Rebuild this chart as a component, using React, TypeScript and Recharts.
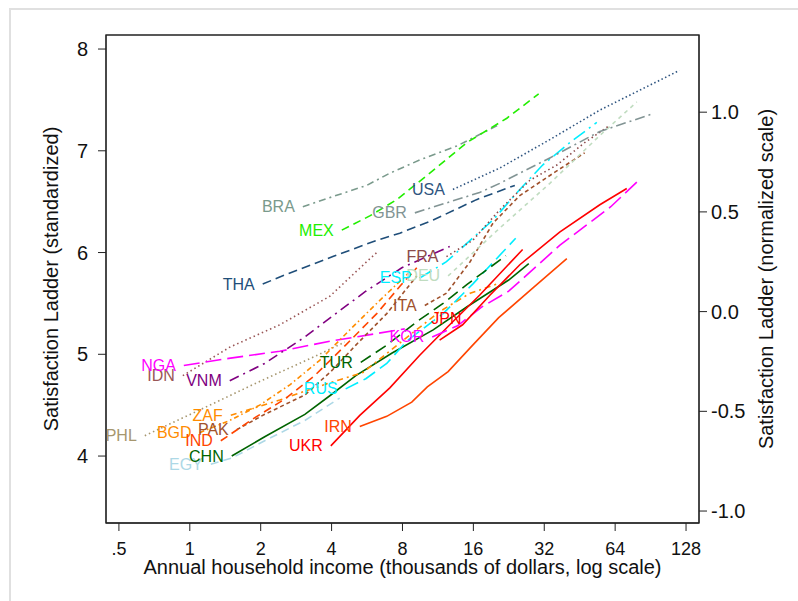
import React from 'react';
import { LineChart, Line, XAxis, YAxis, ReferenceArea } from 'recharts';

// ---- axis ticks ----
const incomeTicks = [0.5, 1, 2, 4, 8, 16, 32, 64, 128];
const ladderTicks = [4, 5, 6, 7, 8];
const normTicks = [-1, -0.5, 0, 0.5, 1];

// ---- series: [income (thousands $), satisfaction ladder] ----
const BRA = [[3.02, 6.45], [4.05, 6.55], [5.64, 6.66], [7.07, 6.78], [9.47, 6.91], [13.7, 7.05], [20.7, 7.26]];
const MEX = [[4.42, 6.22], [5.81, 6.36], [7.57, 6.52], [10.45, 6.78], [15.0, 7.08], [22.2, 7.32], [30.3, 7.56]];
const THA = [[2.04, 5.69], [2.41, 5.76], [4.05, 5.96], [6.22, 6.12], [7.79, 6.19], [10.8, 6.32], [16.5, 6.52], [24.0, 6.66]];
const USA = [[13.1, 6.62], [20.7, 6.83], [33.8, 7.11], [55.1, 7.4], [120, 7.79]];
const GBR = [[9.03, 6.39], [17.0, 6.59], [20.7, 6.68], [33.8, 6.93], [55.1, 7.19], [91.5, 7.36]];
const FRA = [[12.3, 5.96], [15.9, 6.12], [20.7, 6.42], [27.8, 6.71], [36.2, 6.86], [47.5, 7.08], [60.7, 7.25]];
const ESP = [[9.47, 5.75], [12.3, 5.91], [15.5, 6.12], [19.4, 6.32], [25.2, 6.62], [31.5, 6.86], [41.1, 7.08], [53.5, 7.28]];
const DEU = [[12.5, 5.77], [20.7, 6.24], [33.8, 6.68], [55.1, 7.15], [79.1, 7.48]];
const ITA = [[9.95, 5.48], [12.3, 5.6], [15.5, 5.91], [19.4, 6.29], [25.2, 6.56], [35.5, 6.79], [47.5, 6.98]];
const JPN = [[11.5, 5.14], [14.4, 5.29], [18.8, 5.58], [25.2, 5.88], [37.2, 6.2], [55.1, 6.47], [71.7, 6.63]];
const KOR = [[10.7, 5.17], [13.7, 5.28], [17.5, 5.47], [22.6, 5.62], [37.2, 6.07], [61.3, 6.45], [80.6, 6.71]];
const TUR = [[5.32, 4.92], [6.86, 5.09], [9.2, 5.32], [11.9, 5.5], [15.1, 5.69], [22.0, 5.97]];
const RUS = [[4.59, 4.66], [5.59, 4.76], [6.86, 4.91], [8.34, 5.13], [11.9, 5.4], [15.9, 5.69], [24.2, 6.14]];
const NGA = [[0.943, 4.89], [1.464, 4.96], [2.41, 5.03], [3.97, 5.13], [5.07, 5.17], [8.18, 5.25]];
const IDN = [[0.934, 4.79], [1.478, 5.07], [2.41, 5.29], [3.93, 5.57], [5.64, 5.91], [6.22, 6.0]];
const VNM = [[1.478, 4.74], [2.08, 4.91], [3.08, 5.17], [4.17, 5.4], [5.59, 5.62], [7.95, 5.85], [12.7, 6.06]];
const ZAF = [[1.493, 4.4], [1.925, 4.48], [2.41, 4.55], [2.93, 4.62], [3.93, 4.72], [5.43, 4.82], [7.79, 5.11], [11.5, 5.42], [15.5, 5.6], [20.7, 5.7]];
const PHL = [[0.644, 4.2], [1.216, 4.5], [1.925, 4.72], [3.33, 4.97], [4.55, 5.12]];
const BGD = [[1.1, 4.23], [1.478, 4.35], [1.98, 4.5], [2.66, 4.7], [3.56, 4.94], [4.78, 5.24], [6.41, 5.53], [8.59, 5.81]];
const PAK = [[1.583, 4.26], [2.08, 4.41], [3.08, 4.6], [3.97, 4.83], [5.07, 5.09], [6.86, 5.4], [9.2, 5.77]];
const IND = [[1.354, 4.15], [1.87, 4.37], [2.53, 4.56], [3.39, 4.79], [4.59, 5.09], [6.22, 5.4], [7.95, 5.69], [9.2, 5.85]];
const CHN = [[1.507, 4.0], [2.08, 4.19], [3.08, 4.41], [3.97, 4.6], [5.07, 4.79], [7.2, 5.01], [10.8, 5.24], [15.1, 5.47], [22.6, 5.73], [27.5, 5.89]];
const EGY = [[1.228, 3.92], [1.507, 3.98], [2.08, 4.15], [3.08, 4.35], [4.33, 4.57]];
const UKR = [[3.97, 4.1], [5.27, 4.4], [7.07, 4.67], [9.47, 4.99], [12.7, 5.29], [17.0, 5.58], [25.9, 6.03]];
const IRN = [[5.27, 4.29], [6.86, 4.39], [8.76, 4.53], [10.2, 4.68], [12.5, 4.83], [15.9, 5.09], [20.5, 5.36], [28.9, 5.66], [39.9, 5.94]];

type Pt = number[];
interface Series {
  name: string;
  pts: Pt[];
  color: string;
  dash?: string;
  width?: number;
  ldx?: number;
  ldy?: number;
}

const series: Series[] = [
  { name: 'PHL', pts: PHL, color: '#a6966e', dash: '1.5 3' },
  { name: 'IDN', pts: IDN, color: '#9a5656', dash: '1.5 3' },
  { name: 'NGA', pts: NGA, color: '#ff00ff', dash: '16 6' },
  { name: 'VNM', pts: VNM, color: '#800080', dash: '10 5 2 5' },
  { name: 'EGY', pts: EGY, color: '#add8e6', dash: '8 5' },
  { name: 'CHN', pts: CHN, color: '#006400' },
  { name: 'BGD', pts: BGD, color: '#ff8c00', dash: '5 3 1.5 3' },
  { name: 'ZAF', pts: ZAF, color: '#ff8c00', dash: '6 4 2 4' },
  { name: 'PAK', pts: PAK, color: '#a0522d', dash: '4 3' },
  { name: 'IND', pts: IND, color: '#ff4500', dash: '8 5' },
  { name: 'THA', pts: THA, color: '#1f4e79', dash: '9 5' },
  { name: 'BRA', pts: BRA, color: '#7a9a8c', dash: '7 4 2 4' },
  { name: 'MEX', pts: MEX, color: '#22ee00', dash: '8 5' },
  { name: 'RUS', pts: RUS, color: '#00eeff', dash: '14 6' },
  { name: 'TUR', pts: TUR, color: '#006400', dash: '12 6' },
  { name: 'UKR', pts: UKR, color: '#ff0000' },
  { name: 'IRN', pts: IRN, color: '#ff4500' },
  { name: 'KOR', pts: KOR, color: '#ff00ff', dash: '16 6' },
  { name: 'JPN', pts: JPN, color: '#ff0000', ldx: 30, ldy: -22 },
  { name: 'ITA', pts: ITA, color: '#a0522d', dash: '4 3' },
  { name: 'DEU', pts: DEU, color: '#c0dcc0', dash: '4 4' },
  { name: 'ESP', pts: ESP, color: '#00eeff', dash: '14 5 2 5' },
  { name: 'FRA', pts: FRA, color: '#8b4a4a', dash: '1.5 3' },
  { name: 'GBR', pts: GBR, color: '#829494', dash: '10 4 2 4' },
  { name: 'USA', pts: USA, color: '#2f5580', dash: '1.5 2.5' },
];

const FONT = '"Liberation Sans", Arial, Helvetica, sans-serif';

const makeLabel = (s: Series) => (p: any) => {
  if (p.index !== 0) return null;
  const x = p.x ?? p.viewBox?.x;
  const y = p.y ?? p.viewBox?.y;
  if (x == null || y == null) return null;
  return (
    <text
      x={x - 8 + (s.ldx ?? 0)}
      y={y + (s.ldy ?? 0)}
      textAnchor="end"
      dominantBaseline="central"
      fill={s.color}
      fontSize={16}
      fontFamily={FONT}
    >
      {s.name}
    </text>
  );
};

const leftTitle = (p: any) => {
  const vb = p.viewBox || { x: 0, y: 35, width: 106, height: 488 };
  const cx = vb.x + 51;
  const cy = vb.y + vb.height / 2;
  return (
    <text x={cx} y={cy} transform={`rotate(-90 ${cx} ${cy})`} textAnchor="middle" dominantBaseline="central" fontSize={20} fill="#111" fontFamily={FONT}>
      Satisfaction Ladder (standardized)
    </text>
  );
};

const rightTitle = (p: any) => {
  const vb = p.viewBox || { x: 699, y: 35, width: 99, height: 488 };
  const cx = vb.x + 67;
  const cy = vb.y + vb.height / 2;
  return (
    <text x={cx} y={cy} transform={`rotate(-90 ${cx} ${cy})`} textAnchor="middle" dominantBaseline="central" fontSize={20} fill="#111" fontFamily={FONT}>
      Satisfaction Ladder (normalized scale)
    </text>
  );
};

const X_DOMAIN: [number, number] = [0.4407, 145.3];
const L_DOMAIN: [number, number] = [3.342, 8.138];
const R_DOMAIN: [number, number] = [-1.06, 1.387];

export default function App() {
  return (
    <div style={{ position: 'absolute', left: 0, top: 0, width: 798, height: 601, background: '#fff', fontFamily: FONT }}>
      <div style={{ position: 'absolute', left: 9, top: 8, right: -10, bottom: -10, borderLeft: '2px solid #e0e0e0', borderTop: '2px solid #e0e0e0' }} />
      <div style={{ position: 'absolute', left: 0, top: 0 }}>
        <LineChart width={798} height={601} margin={{ top: 35, right: 0, bottom: 0, left: 0 }}>
          <XAxis
            dataKey="x"
            type="number"
            scale="log"
            domain={X_DOMAIN}
            allowDataOverflow
            ticks={incomeTicks}
            tickFormatter={(v: number) => (v === 0.5 ? '.5' : String(v))}
            height={78}
            tickSize={8}
            tickMargin={11}
            stroke="#222"
            tick={{ fill: '#111', fontSize: 18, fontFamily: FONT }}
            label={{ value: 'Annual household income (thousands of dollars, log scale)', position: 'insideBottom', offset: 27, style: { fontSize: 20, fill: '#111', fontFamily: FONT } }}
          />
          <YAxis
            yAxisId="L"
            type="number"
            domain={L_DOMAIN}
            allowDataOverflow
            ticks={ladderTicks}
            width={106}
            tickSize={8}
            tickMargin={10}
            stroke="#222"
            tick={{ fill: '#111', fontSize: 20, fontFamily: FONT }}
            label={{ content: leftTitle }}
          />
          <YAxis
            yAxisId="R"
            orientation="right"
            type="number"
            domain={R_DOMAIN}
            allowDataOverflow
            ticks={normTicks}
            tickFormatter={(v: number) => v.toFixed(1)}
            width={99}
            tickSize={8}
            tickMargin={4}
            stroke="#222"
            tick={{ fill: '#111', fontSize: 20, fontFamily: FONT }}
            label={{ content: rightTitle }}
          />
          <ReferenceArea yAxisId="L" x1={X_DOMAIN[0]} x2={X_DOMAIN[1]} y1={L_DOMAIN[0]} y2={L_DOMAIN[1]} fill="none" stroke="#222" strokeWidth={1.3} fillOpacity={0} />
          {series.map((s) => (
            <Line
              key={s.name}
              yAxisId="L"
              data={s.pts.map(([x, y]) => ({ x, y }))}
              dataKey="y"
              type="linear"
              stroke={s.color}
              strokeWidth={s.width ?? 1.6}
              strokeDasharray={s.dash}
              dot={false}
              activeDot={false}
              isAnimationActive={false}
              label={makeLabel(s)}
            />
          ))}
        </LineChart>
      </div>
    </div>
  );
}
